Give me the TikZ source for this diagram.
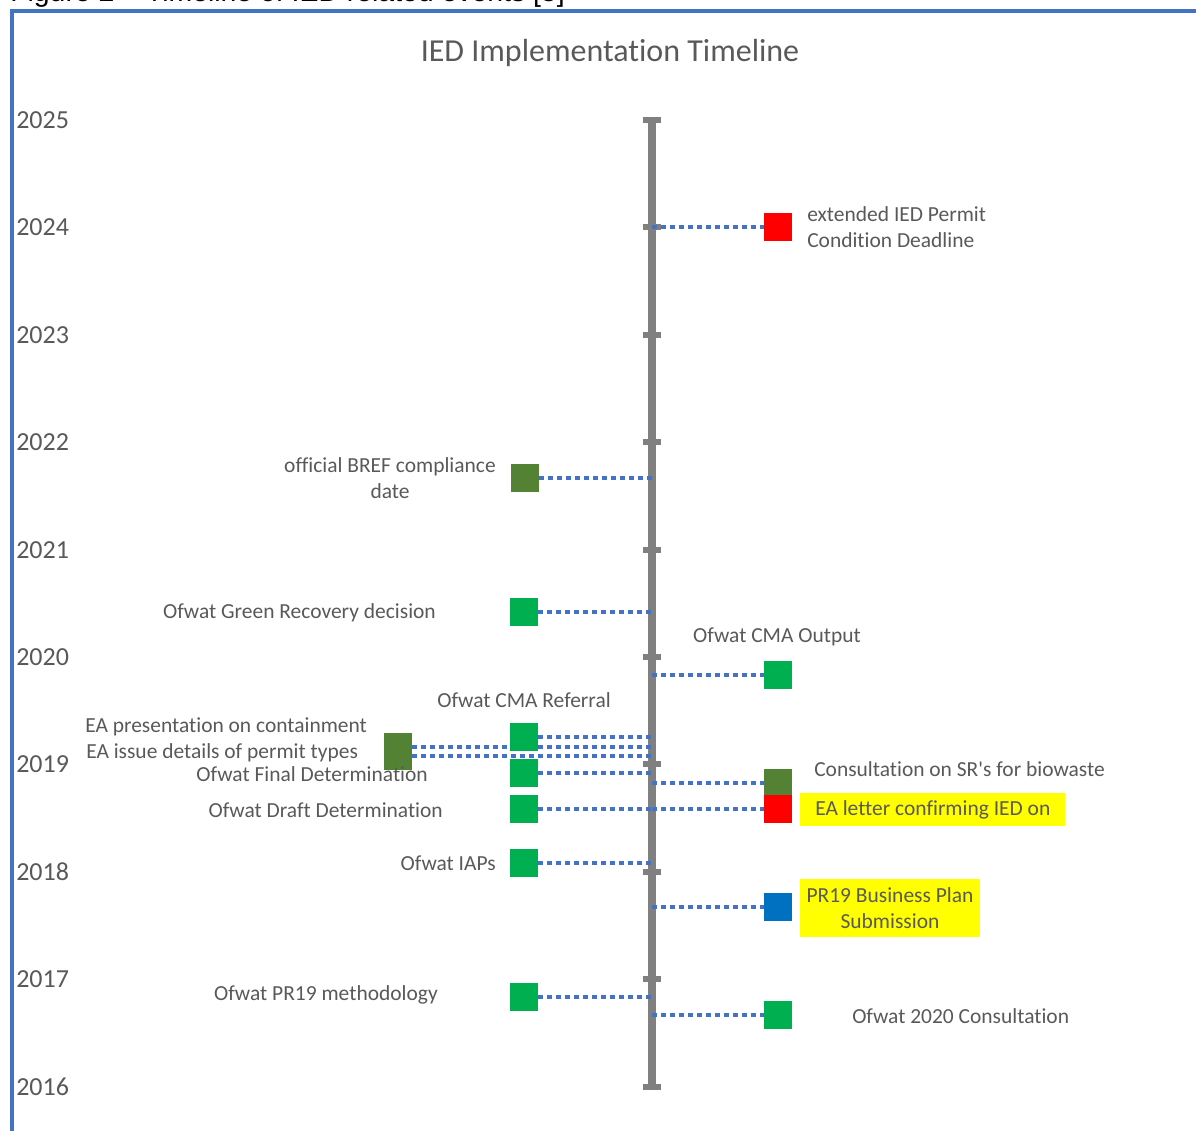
\documentclass[tikz,border=0pt]{standalone}
\usepackage{fontspec}
\setmainfont{Carlito}[Ligatures={NoCommon}]
\newfontfamily\capfont{Liberation Sans}
\definecolor{axisgray}{HTML}{808080}
\definecolor{txtgray}{HTML}{595959}
\definecolor{dotblue}{HTML}{4472C4}
\definecolor{evgreen}{HTML}{00B050}
\definecolor{evdark}{HTML}{548235}
\definecolor{evred}{HTML}{FF0000}
\definecolor{evblue}{HTML}{0070C0}
\definecolor{hl}{HTML}{FFFF00}
\begin{document}
\begin{tikzpicture}[x=0.75pt,y=-0.75pt,
  lbl/.style={inner sep=0pt,text=txtgray,font=\fontsize{16.1}{19.5}\selectfont},
  yr/.style={inner sep=0pt,anchor=west,text=txtgray,font=\fontsize{19.5}{23}\selectfont},
  marker/.style={rectangle,inner sep=0pt,minimum size=20.25pt,draw=none},
  conn/.style={draw=dotblue,line width=3pt,dash pattern=on 3.75pt off 3pt},
  tickbar/.style={draw=axisgray,line width=5pt},
  hlbox/.style={fill=hl,text=txtgray,font=\fontsize{16.1}{19.5}\selectfont}]
\useasboundingbox (0,0) rectangle (1196,1131);
\clip (0,0) rectangle (1196,1131);
% caption (cut off at top, as in the reference)
\node[anchor=base west,inner sep=0pt,font=\capfont\fontsize{21.3}{25}\selectfont] (cap) at (10,2) {Figure 2 \textendash{} Timeline of IED related events [5]};
% frame
\draw[dotblue,line width=3pt] (12,1140) -- (12,11.5) -- (1200,11.5);
% title
\node[inner sep=0pt,text=txtgray,font=\fontsize{24}{28}\selectfont] (title) at (610,53) {IED Implementation Timeline};
% axis
\coordinate (top) at (652,120);
\coordinate (bot) at (652,1087);
\draw[axisgray,line width=6.5pt] (top) -- (bot);
\foreach \yy/\lab in {120/2025,227/2024,335/2023,442/2022,550/2021,657/2020,764/2019,872/2018,979/2017,1087/2016}{
  \draw[tickbar] (643,\yy) -- (661,\yy);
  \node[yr] (y\lab) at (16,\yy) {\lab};
}
% axis anchor coordinates
\coordinate (a1) at (652,227);
\coordinate (a2) at (652,478);
\coordinate (a3) at (652,612);
\coordinate (a4) at (652,675);
\coordinate (a5) at (652,737);
\coordinate (a6) at (652,747);
\coordinate (a7) at (652,756);
\coordinate (a8) at (652,773);
\coordinate (a9) at (652,783);
\coordinate (a10) at (652,809);
\coordinate (a11) at (652,863);
\coordinate (a12) at (652,907);
\coordinate (a13) at (652,997);
\coordinate (a14) at (652,1015);
% markers (positions)
\path
  (778,227) node[marker] (m1) {}
  (525,478) node[marker] (m2) {}
  (524,612) node[marker] (m3) {}
  (778,675) node[marker] (m4) {}
  (524,737) node[marker] (m5) {}
  (398,747) node[marker] (m6) {}
  (398,756) node[marker] (m7) {}
  (524,773) node[marker] (m8) {}
  (778,783) node[marker] (m9) {}
  (524,809) node[marker] (m10) {}
  (778,809) node[marker] (m15) {}
  (524,863) node[marker] (m11) {}
  (778,907) node[marker] (m12) {}
  (524,997) node[marker] (m13) {}
  (778,1015) node[marker] (m14) {};
% connectors
\draw[conn] (a1) -- (m1.west);
\draw[conn] (m2.east) -- (a2);
\draw[conn] (m3.east) -- (a3);
\draw[conn] (a4) -- (m4.west);
\draw[conn] (m5.east) -- (a5);
\draw[conn] (m6.east) -- (a6);
\draw[conn] (m7.east) -- (a7);
\draw[conn] (m8.east) -- (a8);
\draw[conn] (a9) -- (m9.west);
\draw[conn] (m10.east) -- (a10);
\draw[conn] (a10) -- (m15.west);
\draw[conn] (m11.east) -- (a11);
\draw[conn] (a12) -- (m12.west);
\draw[conn] (m13.east) -- (a13);
\draw[conn] (a14) -- (m14.west);
% marker fills (drawn over connectors)
\fill[evred] (m1.south west) rectangle (m1.north east);
\fill[evdark] (m2.south west) rectangle (m2.north east);
\fill[evgreen] (m3.south west) rectangle (m3.north east);
\fill[evgreen] (m4.south west) rectangle (m4.north east);
\fill[evgreen] (m5.south west) rectangle (m5.north east);
\fill[evdark] (m6.south west) rectangle (m6.north east);
\fill[evdark] (m7.south west) rectangle (m7.north east);
\fill[evgreen] (m8.south west) rectangle (m8.north east);
\fill[evdark] (m9.south west) rectangle (m9.north east);
\fill[evgreen] (m10.south west) rectangle (m10.north east);
\fill[evred] (m15.south west) rectangle (m15.north east);
\fill[evgreen] (m11.south west) rectangle (m11.north east);
\fill[evblue] (m12.south west) rectangle (m12.north east);
\fill[evgreen] (m13.south west) rectangle (m13.north east);
\fill[evgreen] (m14.south west) rectangle (m14.north east);
% labels
\node[lbl,anchor=west,align=left] (l1) at (807,227) {extended IED Permit\\Condition Deadline};
\node[lbl,align=center] (l2) at (390,478) {official BREF compliance\\date};
\node[lbl,anchor=east] (l3) at (436,613) {Ofwat Green Recovery decision};
\node[lbl] (l4) at (777,637) {Ofwat CMA Output};
\node[lbl] (l5) at (524,700) {Ofwat CMA Referral};
\node[lbl,anchor=west] (l6) at (85,727) {EA presentation on containment};
\node[lbl,anchor=west] (l7) at (86,753) {EA issue details of permit types};
\node[lbl,anchor=east] (l8) at (428,774) {Ofwat Final Determination};
\node[lbl,anchor=west] (l9) at (814,769) {Consultation on SR\textquotesingle s for biowaste};
\node[hlbox,anchor=west,inner xsep=11.25pt,minimum height=24.75pt,inner ysep=0pt] (l15) at (800,809.5) {EA letter confirming IED on};
\node[lbl,anchor=east] (l10) at (443,810) {Ofwat Draft Determination};
\node[lbl,anchor=east] (l11) at (496,863) {Ofwat IAPs};
\node[hlbox,align=center,minimum width=135pt,minimum height=43.5pt,inner sep=0pt] (l12) at (890,908) {PR19 Business Plan\\Submission};
\node[lbl,anchor=east] (l13) at (438,995) {Ofwat PR19 methodology};
\node[lbl,anchor=west] (l14) at (852,1016) {Ofwat 2020 Consultation};
\end{tikzpicture}
\end{document}
